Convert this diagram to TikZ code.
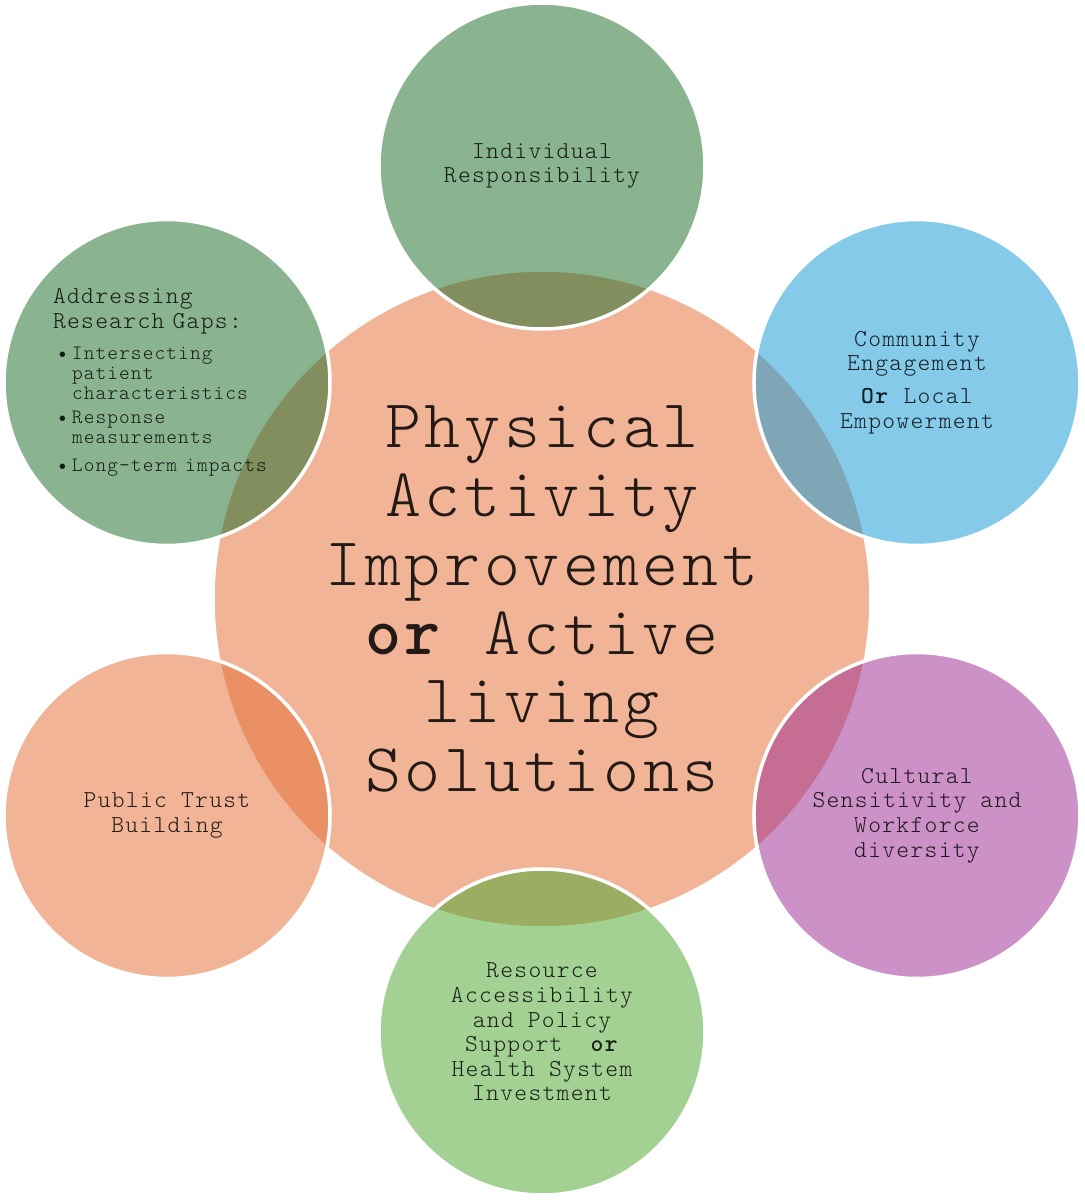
\documentclass[tikz,border=0pt]{standalone}
\usepackage{fontspec}
\setmainfont{lmmonolt10-regular.otf}[BoldFont=lmmonolt10-bold.otf,LetterSpace=5.4]
\usetikzlibrary{shapes}

\definecolor{salmon}{HTML}{F1B497}
\definecolor{ember}{HTML}{E46F37}
\definecolor{sage}{HTML}{1E6D28}
\definecolor{sky}{HTML}{169BD5}
\definecolor{orchid}{HTML}{9D2D91}
\definecolor{leaf}{HTML}{4EA72F}

\newcommand{\gapitem}[1]{\par\vspace{1.1pt}\hangindent=.19cm\hangafter=1
  \hspace*{.04cm}\makebox[.15cm][l]{\textbullet}#1}

\begin{document}
\begin{tikzpicture}
  [every node/.style={circle,inner sep=0pt,draw=white,line width=1pt,
     text=black,text opacity=.85,align=center},
   hub/.style={minimum size=6.58cm,fill=salmon,font=\fontsize{19.5}{19.6}\selectfont},
   spoke/.style={minimum size=3.26cm,fill opacity=.52,font=\fontsize{6.93}{7}\selectfont}]
  \useasboundingbox (-5.42,-6.01) rectangle (5.42,5.99);
  \node[hub] (pa) at (0,0) {Physical\\Activity\\Improvement\\\textbf{or} Active\\living\\Solutions};
  \node[spoke,fill=sage] (ir) at (90:4.33) {Individual\\Responsibility};
  \node[spoke,fill=sky] (ce) at (30:4.33) {Community\\Engagement\\[2.3pt]\textbf{Or} Local\\Empowerment};
  \node[spoke,fill=orchid] (cs) at (-30:4.33) {Cultural\\Sensitivity and\\Workforce\\diversity};
  \node[spoke,fill=leaf] (ra) at (-90:4.33) {Resource\\Accessibility\\and Policy\\Support~~\textbf{or}\\Health System\\Investment};
  \node[spoke,fill=ember] (pt) at (210:4.33) {Public Trust\\Building};
  \node[spoke,fill=sage,text width=2.28cm,align=left] (rg) at (150:4.33)
    {Addressing\\Research Gaps:\par
     \fontsize{5.8}{5.7}\selectfont\vspace{2pt}
     \gapitem{Intersecting\newline patient\newline characteristics}
     \gapitem{Response\newline measurements}
     \gapitem{Long-term impacts}};
\end{tikzpicture}
\end{document}
